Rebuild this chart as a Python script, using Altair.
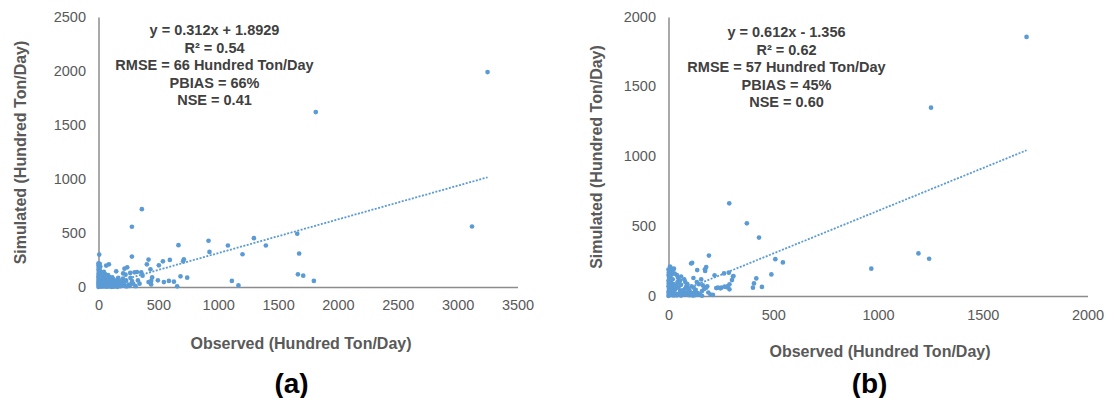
import altair as alt
import pandas as pd

FONT = "Liberation Sans"
BLUE = "#5B9BD5"

# ---------------- Panel (a) data ----------------
a_obs = [3250, 1815, 3120, 362, 279, 6, 279, 668, 919, 927,
         1081, 1203, 1298, 1398, 1660, 1676, 1666, 1710, 1799, 1114, 1169,
         713, 707, 596, 538, 418, 404, 504, 434,
         685, 741, 496, 546, 588, 630, 657, 440, 418, 440, 329, 343, 231, 267,
         87, 64, 0, 240, 217, 321, 301, 265, 148, 206, 357, 368, 448, 267, 204, 226,
         0, 2, 0, 3, 0, 1, 0, 2, 0, 1, 0, 2, 0,
         10, 15, 8, 12, 20, 18, 25, 15, 30, 22, 35, 28, 40,
         45, 55, 50, 60, 48, 65, 58, 70, 62, 75,
         80, 90, 85, 95, 100, 88, 105, 92, 110,
         115, 125, 120, 135, 130, 140, 150, 160, 170, 175, 185, 200, 210, 220, 235, 250, 190, 155,
         5, 7, 12, 17, 27, 33, 38, 43, 52, 68, 78, 98, 108, 118, 128, 145, 165, 180, 195, 215,
         260, 290, 310, 280,
         20, 40, 60, 80, 100, 120, 140, 160, 180, 30, 50, 70, 90, 110, 130, 150, 10, 25, 45]
a_sim = [1990, 1620, 560, 721, 558, 300, 282, 387, 428, 325,
         384, 303, 452, 384, 493, 310, 117, 105, 56, 56, 15,
         257, 238, 251, 238, 254, 210, 201, 164,
         99, 86, 62, 46, 56, 49, 6, 56, 46, 24, 61, 31, 56, 24,
         210, 198, 201, 182, 170, 139, 136, 130, 145, 126, 136, 105, 89, 84, 77, 114,
         220, 180, 160, 140, 120, 100, 85, 70, 55, 40, 25, 10, 0,
         215, 190, 170, 150, 130, 110, 95, 80, 65, 50, 35, 20, 8,
         140, 120, 100, 85, 70, 55, 40, 25, 12, 4,
         110, 95, 75, 60, 45, 30, 18, 8, 2,
         90, 70, 55, 40, 25, 12, 5, 30, 50, 20, 8, 15, 35, 10, 5, 20, 60, 65,
         45, 30, 60, 15, 5, 80, 50, 25, 10, 45, 35, 80, 65, 30, 10, 50, 85, 40, 30, 55,
         10, 30, 8, 55,
         5, 8, 4, 10, 6, 3, 9, 2, 12, 18, 14, 20, 16, 22, 6, 15, 35, 28, 22]
a_trend_x = [0, 3250]
a_trend_y = [1.8929, 0.312 * 3250 + 1.8929]
a_x_ticks = [0, 500, 1000, 1500, 2000, 2500, 3000, 3500]
a_y_ticks = [0, 500, 1000, 1500, 2000, 2500]
a_text = ["y = 0.312x + 1.8929", "R\u00b2 = 0.54", "RMSE = 66 Hundred Ton/Day",
          "PBIAS = 66%", "NSE = 0.41"]

# ---------------- Panel (b) data ----------------
b_obs = [1709, 1253, 968, 1193, 1244,
         290, 374, 432, 510, 546, 491, 193,
         419, 408, 403, 446, 212, 124, 143,
         108, 113, 7, 26, 137, 174, 180, 220, 265, 288, 308, 303, 310, 291, 228, 252, 268, 284, 291,
         119, 156, 164, 180, 175, 10, 21, 236, 248, 276,
         0, 2, 0, 3, 0, 1, 0, 2, 0, 1, 0,
         10, 15, 8, 20, 12, 25, 18, 30, 22, 35, 40,
         45, 55, 50, 60, 48, 65, 58, 70,
         80, 90, 85, 95, 100, 88, 105, 115,
         120, 130, 125, 140, 150, 160, 170, 145, 135, 110, 75, 60, 40, 30, 5, 7, 12, 17, 28, 38, 43, 68, 78, 98,
         190, 200, 185,
         20, 40, 60, 80, 100, 120, 140, 160, 30, 50, 70, 90, 110, 130, 15, 35, 55]
b_sim = [1857, 1350, 196, 305, 267,
         664, 521, 419, 264, 241, 155, 290,
         126, 90, 60, 65, 8, 21, 12,
         233, 238, 210, 196, 186, 191, 207, 148, 162, 167, 139, 114, 143, 84, 57, 60, 67, 71, 48,
         129, 119, 76, 60, 179, 203, 186, 60, 55, 64,
         190, 170, 150, 130, 110, 90, 70, 50, 30, 15, 0,
         175, 155, 140, 120, 100, 85, 65, 45, 30, 15, 5,
         130, 110, 95, 80, 60, 40, 25, 10,
         100, 85, 70, 55, 40, 25, 12, 5,
         60, 45, 30, 20, 10, 35, 50, 85, 100, 70, 120, 140, 150, 160, 60, 35, 80, 20, 5, 75, 100, 20, 50, 30,
         25, 10, 70,
         5, 8, 3, 10, 6, 4, 12, 2, 18, 15, 22, 14, 20, 8, 40, 55, 35]
b_trend_x = [0, 1709]
b_trend_y = [-1.356, 0.612 * 1709 - 1.356]
b_x_ticks = [0, 500, 1000, 1500, 2000]
b_y_ticks = [0, 500, 1000, 1500, 2000]
b_text = ["y = 0.612x - 1.356", "R\u00b2 = 0.62", "RMSE = 57 Hundred Ton/Day",
          "PBIAS = 45%", "NSE = 0.60"]


def panel(obs, sim, tx, ty, xticks, yticks, text_lines, label, w, h,
          ann_x, ann_y, lab_x, lab_y, y_lp, y_tp, x_lp, x_tp, x_tx):
    pts = pd.DataFrame({"x": obs, "y": sim})
    trend = pd.DataFrame({"x": tx, "y": ty})
    xs = alt.Scale(domain=[xticks[0], xticks[-1]], nice=False)
    ys = alt.Scale(domain=[yticks[0], yticks[-1]], nice=False)
    xaxis = alt.Axis(values=xticks, format="d", title="Observed (Hundred Ton/Day)", grid=False,
                     ticks=False, tickSize=0, domainColor="#8c8c8c", domainWidth=1.5,
                     labelColor="#595959", labelFont=FONT, labelFontSize=14.5,
                     labelPadding=x_lp, labelFlush=False, labelOverlap=False,
                     titleFont=FONT, titleFontSize=16, titleFontWeight="bold",
                     titleColor="#595959", titlePadding=x_tp, titleX=x_tx)
    yaxis = alt.Axis(values=yticks, format="d", title="Simulated (Hundred Ton/Day)", grid=False,
                     ticks=False, tickSize=0, domainColor="#8c8c8c", domainWidth=1.5,
                     labelColor="#595959", labelFont=FONT, labelFontSize=14.5,
                     labelPadding=y_lp, labelFlush=False, labelOverlap=False,
                     titleFont=FONT, titleFontSize=16, titleFontWeight="bold",
                     titleColor="#595959", titlePadding=y_tp)
    points = alt.Chart(pts).mark_circle(size=22, color=BLUE, opacity=1).encode(
        x=alt.X("x:Q", scale=xs, axis=xaxis),
        y=alt.Y("y:Q", scale=ys, axis=yaxis),
    )
    line = alt.Chart(trend).mark_line(color=BLUE, strokeDash=[2, 1.5],
                                      strokeWidth=1.8).encode(x="x:Q", y="y:Q")
    one = pd.DataFrame({"k": [0]})
    ann = alt.Chart(one).mark_text(font=FONT, fontSize=14.5, fontWeight="bold",
                                   color="#404040", align="center", baseline="middle",
                                   lineHeight=17.5).encode(
        x=alt.value(ann_x), y=alt.value(ann_y), text=alt.value(text_lines))
    lab = alt.Chart(one).mark_text(font=FONT, fontSize=28, fontWeight="bold",
                                   color="#000000", align="center",
                                   baseline="middle").encode(
        x=alt.value(lab_x), y=alt.value(lab_y), text=alt.value(label))
    return alt.layer(points, line, ann, lab).properties(width=w, height=h)


pa = panel(a_obs, a_sim, a_trend_x, a_trend_y, a_x_ticks, a_y_ticks, a_text, "(a)",
           419, 270, 116, 14, 193, 368, 13, 25, 11, 24, 202)
pb = panel(b_obs, b_sim, b_trend_x, b_trend_y, b_x_ticks, b_y_ticks, b_text, "(b)",
           419, 279, 118, 16, 201, 368, 13, 19, 12, 22, 211)

chart = alt.hconcat(pa, pb, spacing=151, bounds="flush").properties(
    padding={"left": 11.5, "top": 9, "right": 0, "bottom": 0},
    background="white",
).configure_view(stroke=None)

chart.save("out.html", embed_options={"renderer": "svg", "actions": False})
